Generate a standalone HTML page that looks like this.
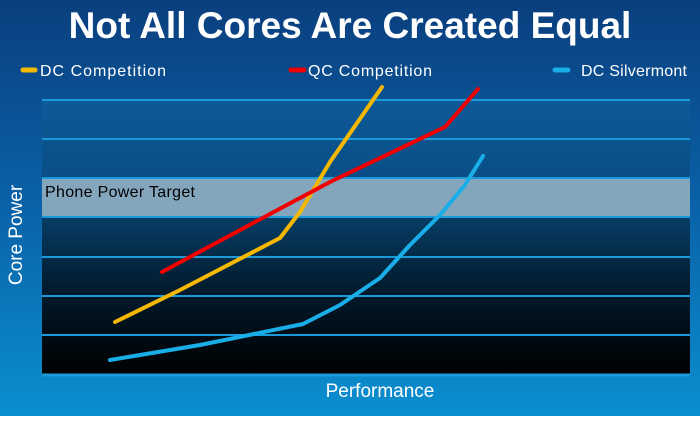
<!DOCTYPE html>
<html><head><meta charset="utf-8"><style>
body{margin:0;width:700px;height:416px;overflow:hidden;font-family:"Liberation Sans",sans-serif;}
</style></head><body>
<svg width="700" height="416" xmlns="http://www.w3.org/2000/svg">
<defs>
<linearGradient id="bg" x1="0" y1="0" x2="0" y2="1">
<stop offset="0" stop-color="#0a3f7e"/><stop offset="0.5" stop-color="#0a62a8"/><stop offset="1" stop-color="#0a8fd0"/>
</linearGradient>
<linearGradient id="pl" x1="0" y1="0" x2="0" y2="1">
<stop offset="0" stop-color="#0c5a98"/><stop offset="0.3" stop-color="#0a4d85"/><stop offset="0.45" stop-color="#063a60"/><stop offset="0.7" stop-color="#021a2c"/><stop offset="1" stop-color="#000000"/>
</linearGradient>
</defs>
<rect width="700" height="416" fill="url(#bg)"/>
<rect x="42" y="100" width="648" height="275" fill="url(#pl)"/>
<rect x="42" y="178" width="648" height="39" fill="#84a6bd"/>
<g stroke="#1a9ad8" stroke-width="2">
<line x1="42" y1="100" x2="690" y2="100"/><line x1="42" y1="139" x2="690" y2="139"/>
<line x1="42" y1="178" x2="690" y2="178"/><line x1="42" y1="217" x2="690" y2="217"/>
<line x1="42" y1="257" x2="690" y2="257"/><line x1="42" y1="296" x2="690" y2="296"/>
<line x1="42" y1="335" x2="690" y2="335"/><line x1="42" y1="375" x2="690" y2="375" stroke-width="3"/>
</g>
<text x="350" y="38" text-anchor="middle" fill="#fff" font-size="37" font-weight="bold">Not All Cores Are Created Equal</text>
<g stroke-linecap="round" stroke-width="5">
<line x1="23" y1="70" x2="35" y2="70" stroke="#f5b800"/>
<line x1="291" y1="70" x2="304" y2="70" stroke="#f20000"/>
<line x1="555" y1="70" x2="568" y2="70" stroke="#1aaee8"/>
</g>
<g fill="#fff" font-size="16">
<text x="40" y="76" textLength="126">DC Competition</text>
<text x="308" y="76" textLength="124">QC Competition</text>
<text x="581" y="76" textLength="106">DC Silvermont</text>
</g>
<text x="45" y="197" fill="#000" font-size="16" textLength="150">Phone Power Target</text>
<text x="380" y="397" text-anchor="middle" fill="#fff" font-size="19">Performance</text>
<text transform="translate(22,235) rotate(-90)" text-anchor="middle" fill="#fff" font-size="19">Core Power</text>
<g fill="none" stroke-width="4" stroke-linecap="round" stroke-linejoin="round">
<polyline stroke="#f5b800" points="115,322 180,290 280,238 300,212 330,162 382,87"/>
<polyline stroke="#f20000" points="162,272 255,222 330,182 445,127 478,89"/>
<polyline stroke="#1aaee8" points="110,360 200,345 303,324 340,305 380,278 410,245 440,215 465,185 483,156"/>
</g>
</svg>
</body></html>
